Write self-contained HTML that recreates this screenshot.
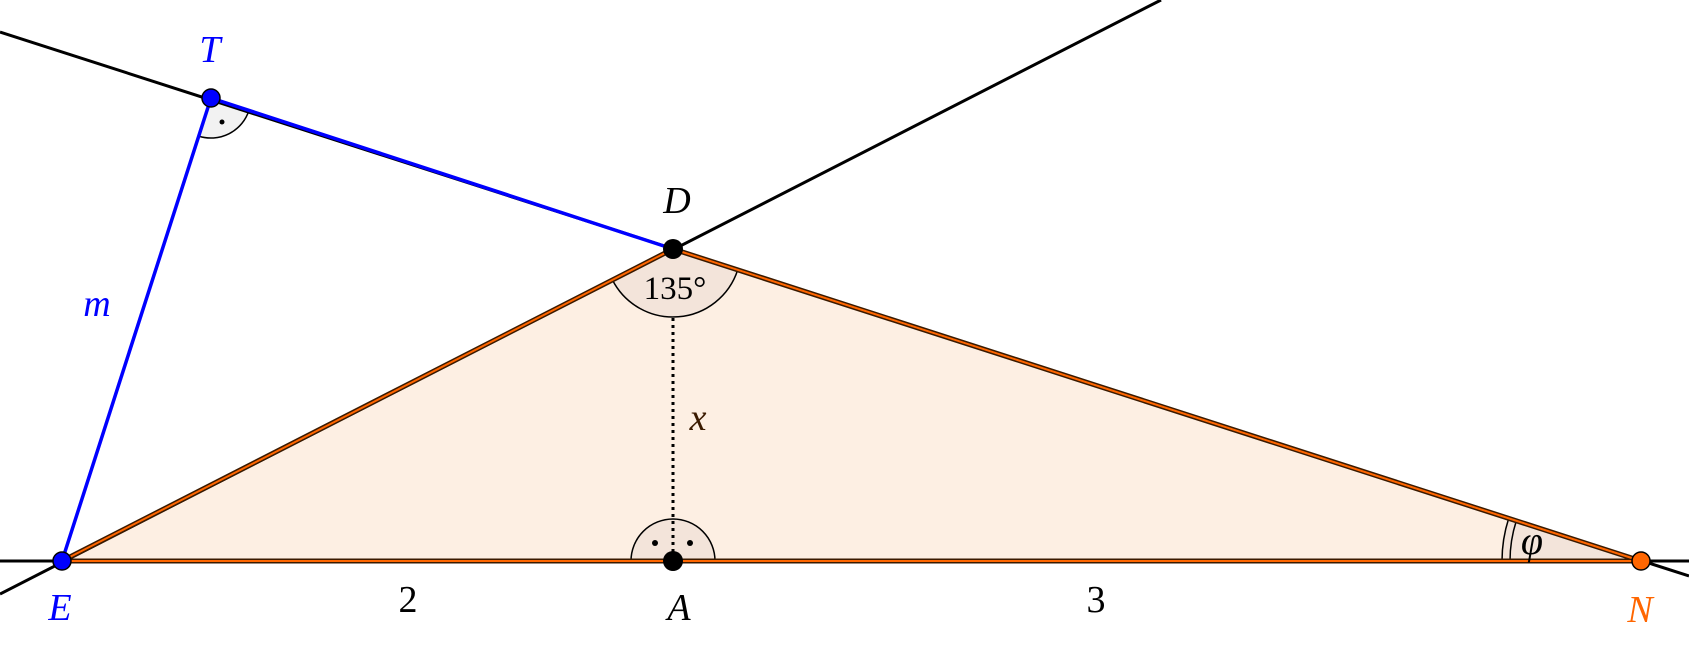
<!DOCTYPE html>
<html><head><meta charset="utf-8"><style>
html,body{margin:0;padding:0;background:#fff;width:1689px;height:650px;overflow:hidden}
svg{display:block}
text{font-family:"Liberation Serif",serif;font-style:italic;font-size:38px}
.n{font-style:normal}
</style></head><body>
<svg width="1689" height="650" viewBox="0 0 1689 650" xmlns="http://www.w3.org/2000/svg">
<polygon points="62,561 673,249 1641,561" fill="#fdefe3"/>
<path d="M673,249 L612.4,279.9 A68,68 0 0 0 737.7,269.9 Z" fill="#f3e4da" stroke="none"/>
<path d="M612.4,279.9 A68,68 0 0 0 737.7,269.9" fill="none" stroke="#000" stroke-width="1.5"/>
<path d="M631,561 A42,42 0 0 1 715,561 Z" fill="#f3e4da" stroke="#000" stroke-width="1.5"/>
<path d="M1641,561 L1502,561 A139,139 0 0 1 1508.7,518.4 Z" fill="#f3e4da"/>
<path d="M1502,561 A139,139 0 0 1 1508.7,518.4" fill="none" stroke="#000" stroke-width="1.5"/>
<path d="M1510,561 A131,131 0 0 1 1516.3,520.9" fill="none" stroke="#000" stroke-width="1.5"/>
<path d="M211,98 L198.7,136.1 A40,40 0 0 0 249,110.4 Z" fill="#f2f2f2"/>
<path d="M198.7,136.1 A40,40 0 0 0 249,110.4" fill="none" stroke="#000" stroke-width="1.5"/>
<circle cx="222" cy="122" r="2.5" fill="#000"/>
<circle cx="655" cy="543" r="3" fill="#000"/>
<circle cx="690" cy="543" r="3" fill="#000"/>
<line x1="0" y1="561" x2="1689" y2="561" stroke="#000" stroke-width="3"/>
<line x1="0" y1="594" x2="1161" y2="0" stroke="#000" stroke-width="3"/>
<line x1="0" y1="32" x2="1689" y2="576" stroke="#000" stroke-width="3"/>
<line x1="211" y1="98" x2="673" y2="249" stroke="#0000ff" stroke-width="3.5"/>
<line x1="211" y1="98" x2="62" y2="561" stroke="#0000ff" stroke-width="3.5"/>
<g fill="none" stroke-linejoin="round">
<polyline points="62,561 673,249 1641,561 62,561" stroke="#3a1a00" stroke-width="5"/>
<polyline points="62,561 673,249 1641,561 62,561" stroke="#ff6600" stroke-width="2"/>
</g>
<line x1="673" y1="318" x2="673" y2="561" stroke="#000" stroke-width="3" stroke-dasharray="3,4"/>
<circle cx="211" cy="98" r="9" fill="#0000ff" stroke="#000" stroke-width="1.5"/>
<circle cx="62" cy="561" r="9" fill="#0000ff" stroke="#000" stroke-width="1.5"/>
<circle cx="673" cy="249" r="10" fill="#000"/>
<circle cx="673" cy="561" r="10" fill="#000"/>
<circle cx="1641" cy="561" r="9" fill="#ff6600" stroke="#000" stroke-width="1.5"/>
<text x="210" y="62" fill="#0000ff" text-anchor="middle">T</text>
<text x="677" y="213" text-anchor="middle">D</text>
<text x="675" y="299" class="n" text-anchor="middle" style="font-size:33px">135°</text>
<text x="698" y="430" text-anchor="middle" fill="#3a1a00">x</text>
<text x="97" y="316" fill="#0000ff" text-anchor="middle">m</text>
<text x="60" y="620" fill="#0000ff" text-anchor="middle">E</text>
<text x="408" y="612" class="n" text-anchor="middle">2</text>
<text x="679" y="620" text-anchor="middle">A</text>
<text x="1096" y="612" class="n" text-anchor="middle">3</text>
<text x="1640" y="622" fill="#ff6600" text-anchor="middle">N</text>
<text x="1532" y="554" text-anchor="middle" style="font-size:40px">φ</text>
</svg>
</body></html>
